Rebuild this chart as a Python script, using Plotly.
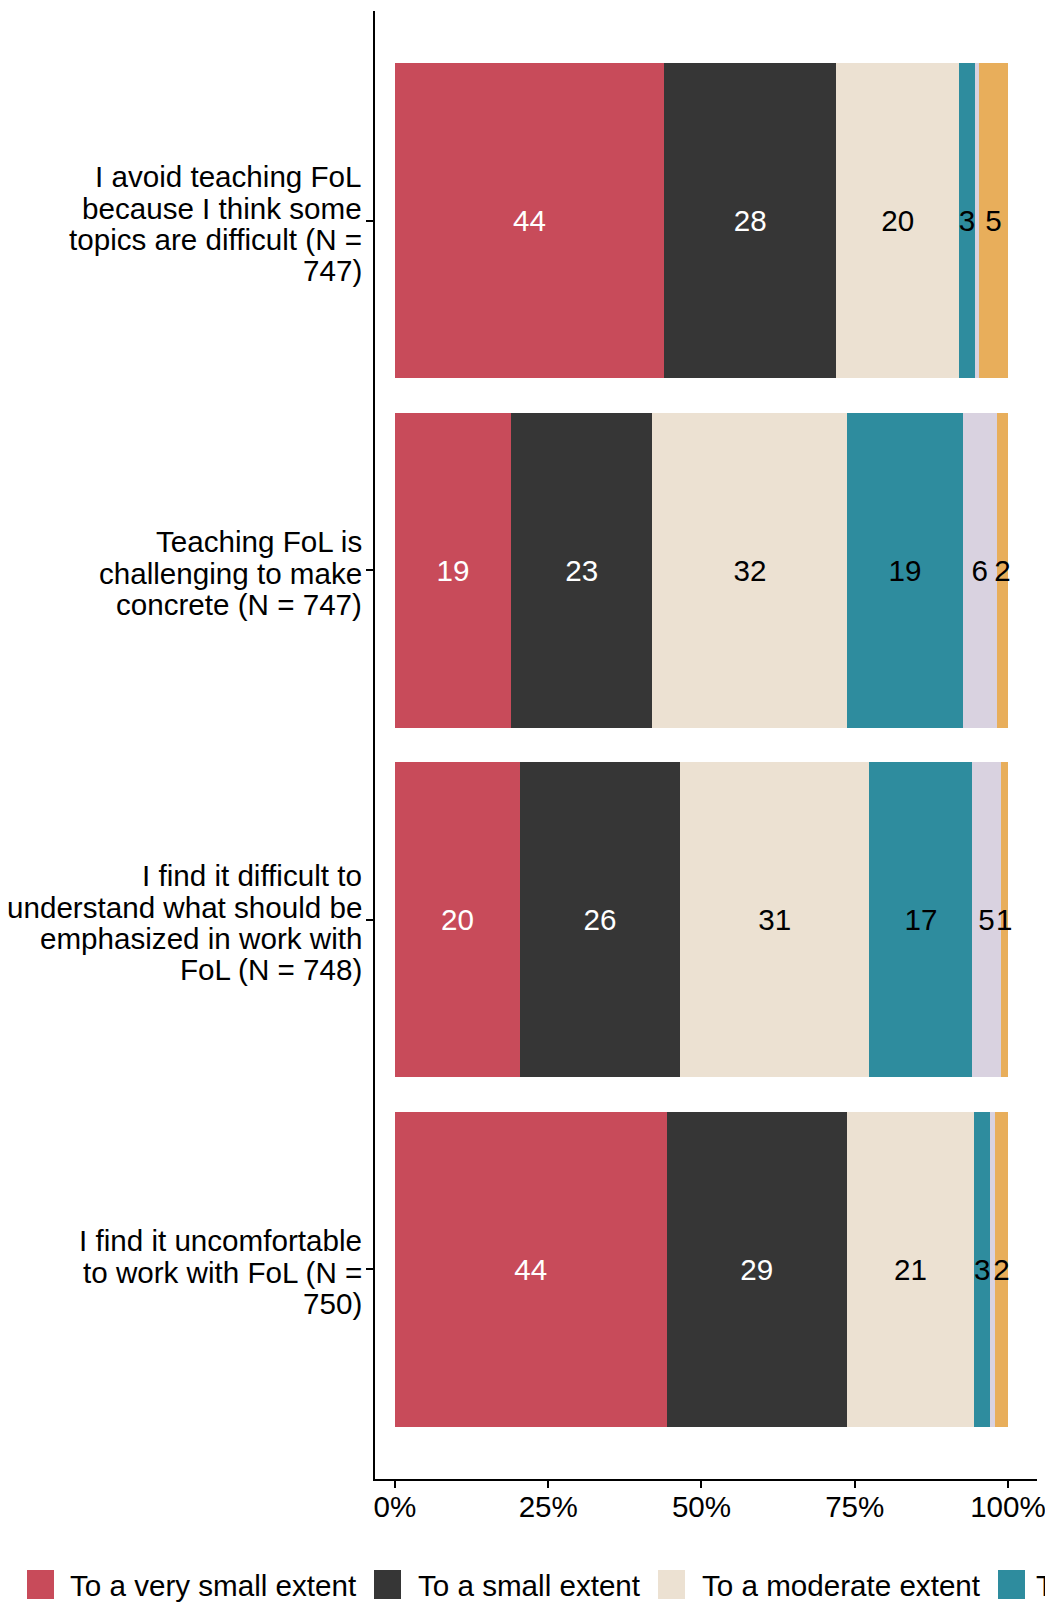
import plotly.graph_objects as go

# ---------------- data ----------------
categories = [
    "I avoid teaching FoL<br>because I think some<br>topics are difficult (N =<br>747)",
    "Teaching FoL is<br>challenging to make<br>concrete (N = 747)",
    "I find it difficult to<br>understand what should be<br>emphasized in work with<br>FoL (N = 748)",
    "I find it uncomfortable<br>to work with FoL (N =<br>750)",
]
series_names = [
    "To a very small extent",
    "To a small extent",
    "To a moderate extent",
    "To a large extent",
    "To a very large extent",
    "Don't know",
]
very_small = [43.9, 18.9, 20.4, 44.3]
small = [28.1, 23.1, 26.1, 29.4]
moderate = [20.0, 31.8, 30.9, 20.8]
large = [2.6, 18.8, 16.8, 2.6]
very_large = [0.7, 5.6, 4.6, 0.8]
dont_know = [4.7, 1.8, 1.2, 2.1]
series_values = [very_small, small, moderate, large, very_large, dont_know]
x_ticks = [0, 25, 50, 75, 100]
x_ticklabels = ["0%", "25%", "50%", "75%", "100%"]

# ---------------- style ----------------
colors = ["#C84B5A", "#363636", "#ECE1D2", "#2E8C9E", "#D9D2E0", "#E8AE5B"]
label_colors = ["white", "white", "black", "black", "black", "black"]
FONT = "Liberation Sans, Arial, Helvetica, sans-serif"
FS = 29.6

OFF = 8  # default page body margin
W, H = 1053 - OFF, 1606 - OFF
L = 375 - OFF
T = 11 - OFF
R = W - (1037 - OFF)
B = H - (1479 - OFF)
PW, PH = W - L - R, H - T - B


def px_to_paper_x(px):
    """page pixel -> paper x"""
    return (px - OFF - L) / PW


def px_to_paper_y(py):
    """page pixel -> paper y"""
    return (H - B - (py - OFF)) / PH


fig = go.Figure()
for name, vals, col, tcol in zip(series_names, series_values, colors, label_colors):
    fig.add_trace(go.Bar(
        y=categories, x=vals, orientation="h", name=name,
        marker=dict(color=col, line=dict(width=0)),
        width=0.9,
        text=[f"{v:.0f}" if v >= 1 else "" for v in vals],
        textposition="inside", insidetextanchor="middle",
        textangle=0, constraintext="none",
        insidetextfont=dict(family=FONT, size=FS, color=tcol),
        showlegend=False, hoverinfo="skip",
    ))

# y category labels as text lines (ggplot-like tight line spacing)
LINE = 31.3
for cat in categories:
    lines = cat.split("<br>")
    n = len(lines)
    for i, ln in enumerate(lines):
        fig.add_annotation(
            x=0, xref="paper", y=cat, yref="y",
            text=ln, showarrow=False, xanchor="right", yanchor="middle",
            xshift=-11, yshift=-((i - (n - 1) / 2) * LINE) - 3,
            font=dict(family=FONT, size=FS, color="black"), align="right",
        )

# manual legend (single row, cut at the right edge like the reference)
legend_swatch_x = [27, 374, 658, 998]
legend_text_x = [70, 418, 702, 1036]
for k in range(len(legend_swatch_x)):
    sx = legend_swatch_x[k]
    fig.add_shape(
        type="rect", xref="paper", yref="paper",
        x0=px_to_paper_x(sx), x1=px_to_paper_x(sx + 27),
        y0=px_to_paper_y(1599), y1=px_to_paper_y(1570),
        fillcolor=colors[k], line=dict(width=0),
    )
    fig.add_annotation(
        x=px_to_paper_x(legend_text_x[k] - 2), xref="paper",
        y=px_to_paper_y(1585), yref="paper",
        text=series_names[k], showarrow=False, xanchor="left", yanchor="middle",
        font=dict(family=FONT, size=FS, color="black"),
    )

fig.update_layout(
    barmode="stack",
    width=W, height=H,
    margin=dict(l=L, r=R, t=T, b=B, autoexpand=False),
    paper_bgcolor="white", plot_bgcolor="white",
    font=dict(family=FONT, size=FS, color="black"),
    showlegend=False,
    xaxis=dict(
        range=[-3.26, 104.73], tickmode="array",
        tickvals=x_ticks, ticktext=x_ticklabels,
        showgrid=False, zeroline=False,
        showline=True, linecolor="black", linewidth=2,
        ticks="outside", ticklen=7, tickwidth=2, tickcolor="black",
        ticklabelstandoff=-7,
        tickfont=dict(family=FONT, size=FS, color="black"),
    ),
    yaxis=dict(
        type="category", categoryorder="array", categoryarray=categories,
        range=[3.6, -0.6], showticklabels=False,
        showgrid=False, zeroline=False,
        showline=True, linecolor="black", linewidth=2,
        ticks="outside", ticklen=7, tickwidth=2, tickcolor="black",
    ),
)

fig.write_html("out.html")
